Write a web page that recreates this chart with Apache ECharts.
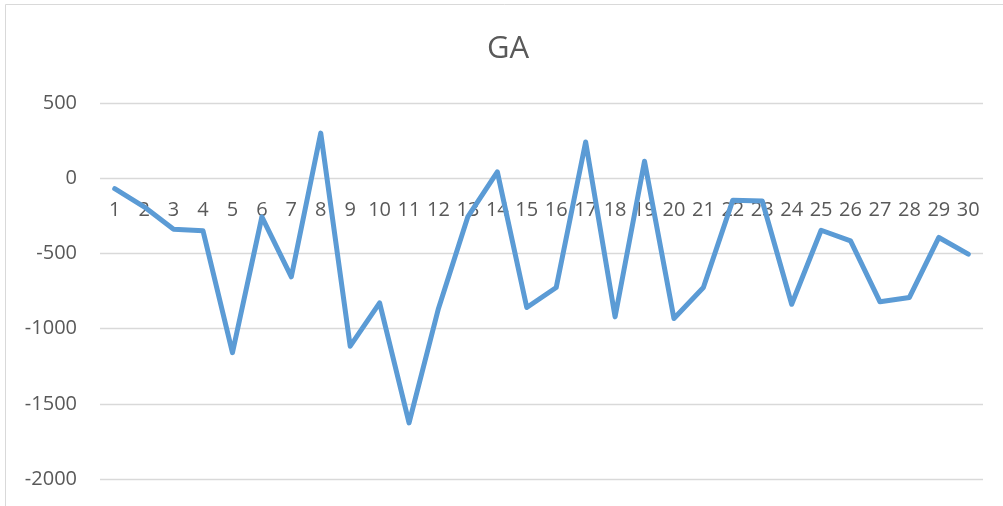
<!DOCTYPE html>
<html>
<head>
<meta charset="utf-8">
<style>
  html, body { margin: 0; padding: 0; background: #ffffff; }
  #chart { width: 1003px; height: 506px; }
</style>
<script src="https://cdn.jsdelivr.net/npm/echarts@6/dist/echarts.min.js"></script>
</head>
<body>
<div id="chart"></div>
<script>
// Run numbers along the x axis
const categories = ['1', '2', '3', '4', '5', '6', '7', '8', '9', '10',
  '11', '12', '13', '14', '15', '16', '17', '18', '19', '20',
  '21', '22', '23', '24', '25', '26', '27', '28', '29', '30'];

// GA result for each run
const gaValues = [-70, -190, -340, -350, -1160, -257, -656, 300, -1117, -829,
  -1627, -866, -255, 42, -860, -727, 241, -922, 113, -933,
  -727, -146, -152, -838, -346, -417, -822, -793, -394, -505];

const chartTitle = 'GA';
const yMin = -2000, yMax = 500, yStep = 500;

const textColor = '#595959';
const gridColor = '#d9d9d9';
const fontFamily = '"Open Sans", "DejaVu Sans", sans-serif';

const gridTop = 103, gridBottom = 27, chartHeight = 506;
const plotHeight = chartHeight - gridTop - gridBottom;
// lift the category axis from the bottom edge up to the value-axis zero line
const zeroOffset = -plotHeight * (0 - yMin) / (yMax - yMin);

const chart = echarts.init(document.getElementById('chart'), null, { renderer: 'canvas' });

chart.setOption({
  animation: false,
  backgroundColor: '#ffffff',
  grid: { left: 100, right: 20, top: gridTop, bottom: gridBottom, containLabel: false, outerBoundsMode: 'none' },
  graphic: [
    // chart-area frame (top and left edges)
    { type: 'line', shape: { x1: 5.5, y1: 4.5, x2: 1003, y2: 4.5 },
      style: { stroke: gridColor, lineWidth: 1 }, silent: true },
    { type: 'line', shape: { x1: 5.5, y1: 4.5, x2: 5.5, y2: 506 },
      style: { stroke: gridColor, lineWidth: 1 }, silent: true },
    { type: 'text', x: 508, y: 49,
      style: { text: chartTitle, fill: textColor, font: '31px "Open Sans", sans-serif',
               textAlign: 'center', textVerticalAlign: 'middle' } }
  ],
  xAxis: {
    type: 'category',
    data: categories,
    boundaryGap: true,
    offset: zeroOffset,
    axisLine: { show: false, onZero: false },
    axisTick: { show: false },
    axisLabel: { color: textColor, fontSize: 20, fontFamily: fontFamily, margin: 22, interval: 0 },
    splitLine: { show: false }
  },
  yAxis: {
    type: 'value',
    min: yMin,
    max: yMax,
    interval: yStep,
    axisLine: { show: false },
    axisTick: { show: false },
    axisLabel: { color: textColor, fontSize: 20, fontFamily: fontFamily, margin: 23,
                 formatter: function (v) { return String(v); } },
    splitLine: { lineStyle: { color: gridColor, width: 1.3 } }
  },
  series: [{
    type: 'line',
    data: gaValues,
    symbol: 'none',
    smooth: false,
    lineStyle: { color: '#5b9bd5', width: 5, cap: 'round', join: 'round' },
    z: 3
  }]
});
</script>
</body>
</html>
